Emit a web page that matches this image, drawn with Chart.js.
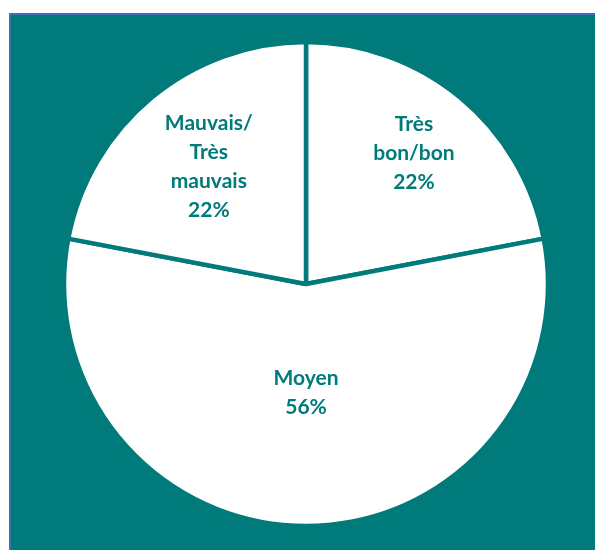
<!DOCTYPE html>
<html>
<head>
<meta charset="utf-8">
<script src="https://cdn.jsdelivr.net/npm/chart.js@4"></script>
<style>
  html, body { margin: 0; padding: 0; background: #ffffff; }
  #wrap { position: absolute; left: 0; top: 0; width: 595px; height: 550px; }
  #frame {
    position: absolute; left: 9px; top: 13px; right: 0; bottom: 0;
    background: #007a7a;
    border-left: 2px solid #3f6fb6;
    border-top: 2px solid #3f6fb6;
  }
  #chart { position: absolute; left: 0; top: 0; }
</style>
</head>
<body>
<div id="wrap">
  <div id="frame"></div>
  <canvas id="chart" width="595" height="550"></canvas>
</div>
<script>
const labels = [["Très", "bon/bon"], ["Moyen"], ["Mauvais/", "Très", "mauvais"]];
const values = [22, 56, 22];
const percentLabels = ["22%", "56%", "22%"];

const teal = "#007a7a";

// label distance from the centre, as share of the radius, for each slice
const labelRadius = [0.70, 0.45, 0.63];

const sliceLabels = {
    id: "sliceLabels",
    afterDatasetsDraw(chart) {
        const ctx = chart.ctx;
        const meta = chart.getDatasetMeta(0);
        ctx.save();
        ctx.fillStyle = teal;
        ctx.font = "bold 21px Lato";
        ctx.textAlign = "center";
        ctx.textBaseline = "middle";
        meta.data.forEach(function(arc, i) {
            const p = arc.getProps(["x", "y", "startAngle", "endAngle", "outerRadius"], true);
            const mid = (p.startAngle + p.endAngle) / 2;
            const r = p.outerRadius * labelRadius[i];
            const cx = p.x + Math.cos(mid) * r;
            const cy = p.y + Math.sin(mid) * r;
            const lines = labels[i].concat([percentLabels[i]]);
            const lh = 29;
            const y0 = cy - (lines.length - 1) * lh / 2;
            lines.forEach(function(t, j) {
                ctx.fillText(t, cx, y0 + j * lh);
            });
        });
        ctx.restore();
    }
};

new Chart(document.getElementById("chart"), {
    type: "pie",
    data: {
        labels: labels.map(l => l.join(" ")),
        datasets: [{
            data: values,
            backgroundColor: "#ffffff",
            borderColor: teal,
            borderWidth: 4.5,
            hoverOffset: 0
        }]
    },
    options: {
        responsive: false,
        animation: false,
        radius: 242,
        layout: { padding: { left: 17, right: 0, top: 18, bottom: 0 } },
        plugins: {
            legend: { display: false },
            tooltip: { enabled: false }
        }
    },
    plugins: [sliceLabels]
});
</script>
</body>
</html>
